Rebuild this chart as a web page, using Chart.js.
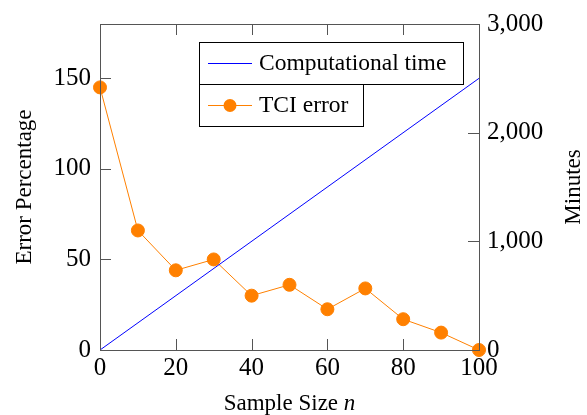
<!DOCTYPE html>
<html>
<head>
<meta charset="utf-8">
<script src="https://cdn.jsdelivr.net/npm/chart.js@4/dist/chart.umd.min.js"></script>
<style>
  body { margin: 0; background: #fff; }
  #wrap { width: 587px; height: 415px; }
</style>
</head>
<body>
<div id="wrap"><canvas id="chart" width="587" height="415"></canvas></div>
<script>
// data
const sampleSizes = [0, 10, 20, 30, 40, 50, 60, 70, 80, 90, 100];
const tciError = [145, 66, 44, 50, 30, 36, 22.5, 34, 17, 9.6, 0];
const timeSizes = [0, 100];
const timeMinutes = [0, 2500];

const xTicks = [0, 20, 40, 60, 80, 100];
const leftTicks = [0, 50, 100, 150];
const rightTicks = [0, 1000, 2000, 3000];

const serif = "'Liberation Serif', 'DejaVu Serif', serif";
const frameColor = "#555";

// inward ticks, frame, axis titles and the two boxed legends
const decorations = {
    id: "decorations",
    afterDraw(chart) {
        const { ctx, chartArea: a, scales } = chart;
        const len = 11;
        ctx.save();
        ctx.strokeStyle = frameColor;
        ctx.lineWidth = 1;

        ctx.beginPath();
        xTicks.forEach(v => {
            const px = Math.round(scales.x.getPixelForValue(v)) + 0.5;
            ctx.moveTo(px, a.bottom); ctx.lineTo(px, a.bottom - len);
            ctx.moveTo(px, a.top); ctx.lineTo(px, a.top + len);
        });
        leftTicks.forEach(v => {
            const py = Math.round(scales.y.getPixelForValue(v)) + 0.5;
            ctx.moveTo(a.left, py); ctx.lineTo(a.left + len, py);
        });
        rightTicks.forEach(v => {
            const py = Math.round(scales.y1.getPixelForValue(v)) + 0.5;
            ctx.moveTo(a.right, py); ctx.lineTo(a.right - len, py);
        });
        ctx.stroke();
        ctx.strokeRect(a.left + 0.5, a.top + 0.5, a.right - a.left, a.bottom - a.top);

        // axis titles
        const titleSize = 23;
        ctx.fillStyle = "#000";
        ctx.textBaseline = "alphabetic";
        ctx.font = titleSize + "px " + serif;
        const xLabel = "Sample Size ";
        const wMain = ctx.measureText(xLabel).width;
        ctx.font = "italic " + titleSize + "px " + serif;
        const wN = ctx.measureText("n").width;
        const startX = (a.left + a.right) / 2 - (wMain + wN) / 2;
        ctx.textAlign = "left";
        ctx.font = titleSize + "px " + serif;
        ctx.fillText(xLabel, startX, 410);
        ctx.font = "italic " + titleSize + "px " + serif;
        ctx.fillText("n", startX + wMain, 410);

        ctx.font = titleSize + "px " + serif;
        ctx.textAlign = "center";
        [["Error Percentage", 31], ["Minutes", 580]].forEach(([txt, x]) => {
            ctx.save();
            ctx.translate(x, (a.top + a.bottom) / 2);
            ctx.rotate(-Math.PI / 2);
            ctx.fillText(txt, 0, 0);
            ctx.restore();
        });

        // legends, one box each
        const boxes = [
            { ds: chart.data.datasets[0], x: 199, y: 42, w: 264, h: 42 },
            { ds: chart.data.datasets[1], x: 199, y: 84, w: 164, h: 42 }
        ];
        ctx.font = "23.5px " + serif;
        ctx.textAlign = "left";
        ctx.textBaseline = "middle";
        boxes.forEach(b => {
            ctx.fillStyle = "#fff";
            ctx.fillRect(b.x, b.y, b.w, b.h);
            ctx.strokeStyle = "#000";
            ctx.lineWidth = 1;
            ctx.strokeRect(b.x + 0.5, b.y + 0.5, b.w, b.h);
            const cy = b.y + b.h / 2 + 0.5;
            ctx.strokeStyle = b.ds.borderColor;
            ctx.beginPath();
            ctx.moveTo(b.x + 9, cy); ctx.lineTo(b.x + 53, cy);
            ctx.stroke();
            if (b.ds.pointRadius > 0) {
                ctx.fillStyle = b.ds.pointBackgroundColor;
                ctx.beginPath();
                ctx.arc(b.x + 31, cy, b.ds.pointRadius, 0, Math.PI * 2);
                ctx.fill();
            }
            ctx.fillStyle = "#000";
            ctx.fillText(b.ds.label, b.x + 60, cy);
        });
        ctx.restore();
    }
};

const ctx = document.getElementById("chart").getContext("2d");
new Chart(ctx, {
    type: "line",
    data: {
        datasets: [
            {
                label: "Computational time",
                data: timeSizes.map((x, i) => ({ x, y: timeMinutes[i] })),
                borderColor: "#0000ff",
                borderWidth: 1,
                pointRadius: 0,
                yAxisID: "y1"
            },
            {
                label: "TCI error",
                data: sampleSizes.map((x, i) => ({ x, y: tciError[i] })),
                borderColor: "#ff8000",
                backgroundColor: "#ff8000",
                pointBackgroundColor: "#ff8000",
                pointBorderColor: "#ff8000",
                borderWidth: 1,
                pointRadius: 6.5,
                clip: false,
                yAxisID: "y"
            }
        ]
    },
    options: {
        responsive: false,
        animation: false,
        layout: { padding: { top: 24, left: 0, right: 0, bottom: 0 } },
        plugins: { legend: { display: false }, tooltip: { enabled: false } },
        scales: {
            x: {
                type: "linear",
                min: 0, max: 100,
                afterBuildTicks: s => { s.ticks = xTicks.map(value => ({ value })); },
                afterFit: s => { s.height = 65; },
                grid: { display: false, drawTicks: false },
                border: { display: false },
                ticks: { color: "#000", font: { family: serif, size: 25 }, padding: 3, maxRotation: 0 }
            },
            y: {
                position: "left",
                min: 0, max: 180,
                afterBuildTicks: s => { s.ticks = leftTicks.map(value => ({ value })); },
                afterFit: s => { s.width = 100; },
                grid: { display: false, drawTicks: false },
                border: { display: false },
                ticks: { color: "#000", font: { family: serif, size: 25 }, padding: 9 }
            },
            y1: {
                position: "right",
                min: 0, max: 3000,
                afterBuildTicks: s => { s.ticks = rightTicks.map(value => ({ value })); },
                afterFit: s => { s.width = 108; },
                grid: { display: false, drawTicks: false },
                border: { display: false },
                ticks: {
                    color: "#000", font: { family: serif, size: 25 }, padding: 8,
                    callback: v => v.toLocaleString("en-US")
                }
            }
        }
    },
    plugins: [decorations]
});
</script>
</body>
</html>
